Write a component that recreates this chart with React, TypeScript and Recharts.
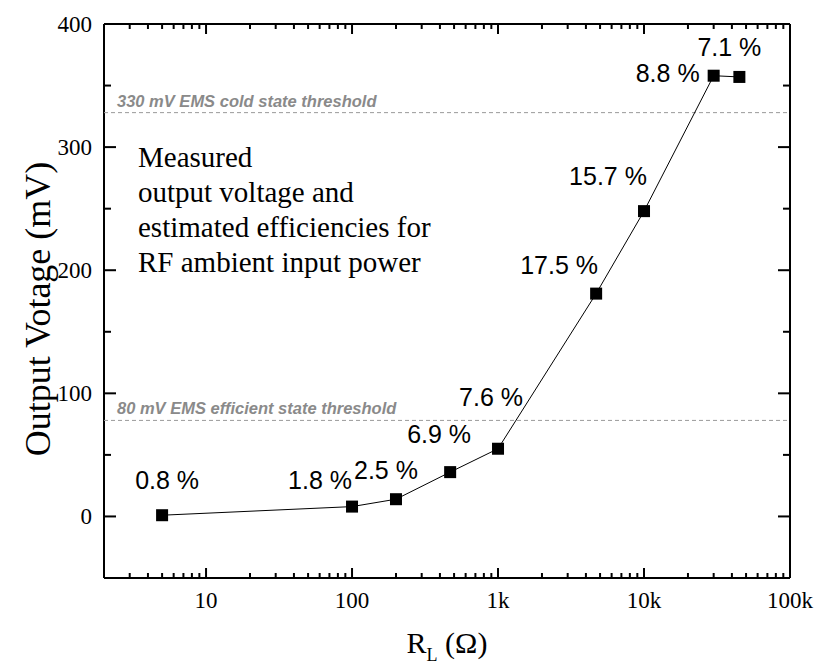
import React from 'react';
import {
  ComposedChart,
  Line,
  XAxis,
  YAxis,
  ReferenceLine,
  LabelList,
} from 'recharts';

// ---- data ----
const resistance = [5, 100, 200, 470, 1000, 4700, 10000, 30000, 45000];
const outputVoltage = [1, 8, 14, 36, 55, 181, 248, 358, 357];
const efficiencyLabels = ['0.8 %', '1.8 %', '2.5 %', '6.9 %', '7.6 %', '17.5 %', '15.7 %', '8.8 %', '7.1 %'];

const xTicks = [10, 100, 1000, 10000, 100000];
const xTickLabels = ['10', '100', '1k', '10k', '100k'];
const xMinorTicks = [
  3, 4, 5, 6, 7, 8, 9,
  20, 30, 40, 50, 60, 70, 80, 90,
  200, 300, 400, 500, 600, 700, 800, 900,
  2000, 3000, 4000, 5000, 6000, 7000, 8000, 9000,
  20000, 30000, 40000, 50000, 60000, 70000, 80000, 90000,
];
const yTicks = [0, 100, 200, 300, 400];
const yMinorTicks = [50, 150, 250, 350];

const thresholdValues = [328, 78];
const thresholdLabels = ['330 mV EMS cold state threshold', '80 mV EMS efficient state threshold'];

const noteLines = ['Measured', 'output voltage and', 'estimated efficiencies for', 'RF ambient input power'];
const xAxisTitle = ['R', 'L', ' (Ω)'];
const yAxisTitle = 'Output Votage (mV)';

// ---- styling / layout ----
const X_DOMAIN: [number, number] = [2, 100000];
const Y_DOMAIN: [number, number] = [-50, 400];
const CHART_W = 816;
const CHART_H = 666;
const MARGIN = { top: 24, right: 26, bottom: 58, left: 44 };
const X_AXIS_H = 30;
const Y_AXIS_W = 60;
const PLOT_W = CHART_W - MARGIN.left - MARGIN.right - Y_AXIS_W;
const PLOT_H = CHART_H - MARGIN.top - MARGIN.bottom - X_AXIS_H;

const labelOffsets: [number, number][] = [
  [5, -35], [-32, -27], [-10, -29], [-11, -38], [-7, -52],
  [-37, -29], [-36, -35], [-46, -3], [-10, -30],
];
const SERIF = 'Liberation Serif';
const SANS = 'Liberation Sans';
const MAJOR_LEN = 10;
const MINOR_LEN = 5;
const Y_MAJOR_LEN = 12;
const Y_MINOR_LEN = 7;
const TICK_W = 2;

const allXTicks = [...xTicks, ...xMinorTicks].sort((a, b) => a - b);
const allYTicks = [...yTicks, ...yMinorTicks].sort((a, b) => a - b);

const data = resistance.map((r, i) => ({ r, v: outputVoltage[i], label: efficiencyLabels[i] }));

const renderSquare = (props: any) => {
  const { cx, cy, index } = props;
  if (cx == null || cy == null) return <g key={`d${index}`} />;
  return <rect key={`d${index}`} x={cx - 6} y={cy - 6} width={12} height={12} fill="#000" />;
};

const renderEff = (props: any) => {
  const x = props.x ?? props.viewBox?.x;
  const y = props.y ?? props.viewBox?.y;
  const i = props.index;
  const off = labelOffsets[i] || [0, -25];
  return (
    <text
      key={`l${i}`}
      x={x + off[0]}
      y={y + off[1]}
      textAnchor="middle"
      dominantBaseline="central"
      fontFamily={SANS}
      fontSize={25}
      fill="#000"
    >
      {props.value}
    </text>
  );
};

const thresholdLabel = (text: string) => (props: any) => {
  const vb = props.viewBox || {};
  return (
    <text
      x={(vb.x ?? 104) + 13}
      y={(vb.y ?? 0) - 6}
      fontFamily={SANS}
      fontSize={16.5}
      fontStyle="italic"
      fontWeight="bold"
      fill="#8a8a8a"
    >
      {text}
    </text>
  );
};

function XBottomTick(props: any) {
  const { x, y, payload } = props;
  const idx = xTicks.indexOf(payload?.value);
  const len = idx >= 0 ? MAJOR_LEN : MINOR_LEN;
  const top = y - PLOT_H;
  return (
    <g>
      <path d={`M${x},${y}V${y - len}`} stroke="#000" strokeWidth={TICK_W} fill="none" />
      <path d={`M${x},${top}V${top + len}`} stroke="#000" strokeWidth={TICK_W} fill="none" />
      {idx >= 0 && (
        <text x={x} y={y + 30} textAnchor="middle" fontFamily={SERIF} fontSize={23} fill="#000">
          {xTickLabels[idx]}
        </text>
      )}
    </g>
  );
}

function YLeftTick(props: any) {
  const { x, y, payload } = props;
  const v = payload?.value;
  const major = yTicks.indexOf(v) >= 0;
  const len = major ? Y_MAJOR_LEN : Y_MINOR_LEN;
  const right = x + PLOT_W;
  return (
    <g>
      <path d={`M${x},${y}H${x + len}`} stroke="#000" strokeWidth={TICK_W} fill="none" />
      <path d={`M${right},${y}H${right - len}`} stroke="#000" strokeWidth={TICK_W} fill="none" />
      {major && (
        <text x={x - 12} y={y} dy="0.35em" textAnchor="end" fontFamily={SERIF} fontSize={23} fill="#000">
          {String(v)}
        </text>
      )}
    </g>
  );
}

export default function App() {
  return (
    <div style={{ position: 'absolute', left: 0, top: 0, width: CHART_W, height: CHART_H, background: '#fff' }}>
      <ComposedChart width={CHART_W} height={CHART_H} data={data} margin={MARGIN}>
        <XAxis
          dataKey="r"
          type="number"
          scale="log"
          domain={X_DOMAIN}
          allowDataOverflow
          ticks={allXTicks}
          interval={0}
          tickLine={false}
          axisLine={false}
          tickSize={0}
          tickMargin={0}
          height={X_AXIS_H}
          tick={(p: any) => <XBottomTick {...p} />}
        />
        <YAxis
          type="number"
          domain={Y_DOMAIN}
          allowDataOverflow
          ticks={allYTicks}
          interval={0}
          tickLine={false}
          axisLine={false}
          tickSize={0}
          tickMargin={0}
          width={Y_AXIS_W}
          tick={(p: any) => <YLeftTick {...p} />}
        />
        <ReferenceLine y={Y_DOMAIN[0]} stroke="#000" strokeWidth={2} />
        <ReferenceLine y={Y_DOMAIN[1]} stroke="#000" strokeWidth={2} />
        <ReferenceLine x={X_DOMAIN[0]} stroke="#000" strokeWidth={2} />
        <ReferenceLine x={X_DOMAIN[1]} stroke="#000" strokeWidth={2} />
        {thresholdValues.map((t, i) => (
          <ReferenceLine
            key={`th${i}`}
            y={t}
            stroke="#9a9a9a"
            strokeWidth={1}
            strokeDasharray="4 3"
            label={thresholdLabel(thresholdLabels[i])}
          />
        ))}
        <Line
          dataKey="v"
          type="linear"
          stroke="#000"
          strokeWidth={1}
          dot={renderSquare}
          activeDot={false}
          isAnimationActive={false}
        >
          <LabelList dataKey="label" content={renderEff} />
        </Line>
      </ComposedChart>
      <svg
        width={CHART_W}
        height={CHART_H}
        style={{ position: 'absolute', left: 0, top: 0, pointerEvents: 'none' }}
      >
        <text x={447} y={653} textAnchor="middle" fontFamily={SERIF} fontSize={30} fill="#000">
          {xAxisTitle[0]}
          <tspan dy={8} fontSize={18}>{xAxisTitle[1]}</tspan>
          <tspan dy={-8}>{xAxisTitle[2]}</tspan>
        </text>
        <text
          x={50}
          y={309}
          transform="rotate(-90, 50, 309)"
          textAnchor="middle"
          fontFamily={SERIF}
          fontSize={36}
          fill="#000"
        >
          {yAxisTitle}
        </text>
      </svg>
      <div
        style={{
          position: 'absolute',
          left: 138,
          top: 140,
          fontFamily: SERIF,
          fontSize: 29,
          lineHeight: '35px',
          color: '#000',
          whiteSpace: 'nowrap',
        }}
      >
        {noteLines.map((l, i) => (
          <div key={i}>{l}</div>
        ))}
      </div>
    </div>
  );
}
